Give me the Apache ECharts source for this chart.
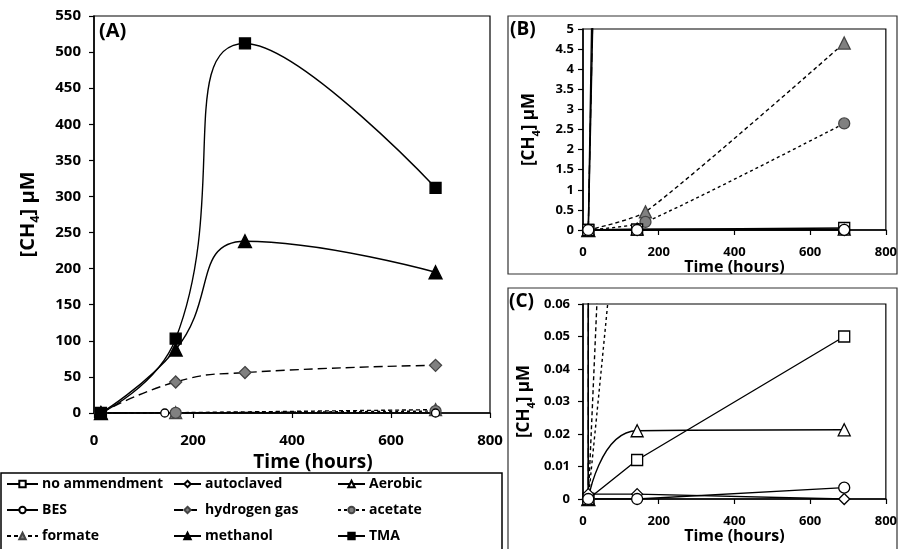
<!DOCTYPE html>
<html>
<head>
<meta charset="utf-8">
<title>CH4 production</title>
<script src="https://cdn.jsdelivr.net/npm/echarts@6.0.0/dist/echarts.min.js"></script>
<style>
	html, body { margin: 0; padding: 0; background: #fff; }
	#chart { width: 900px; height: 549px; }
</style>
</head>
<body>
<div id="chart"></div>
<script type="text/javascript">
// sampling times (hours)
var hoursMain = [14, 165, 305, 690];
var hoursAcid = [14, 165, 690];
var hoursCtrl = [14, 143, 690];

// [CH4] uM per treatment
var tma = [0, 103, 512, 312];
var methanol = [0, 88, 238, 195];
var hydrogen = [0, 43, 56, 66];
var formate = [0, 0.45, 4.65];
var acetate = [0, 0.2, 2.65];
var aerobic = [0, 0.021, 0.0213];
var noAmend = [0, 0.012, 0.05];
var autoclaved = [0.0015, 0.0015, 0];
var bes = [0, 0, 0.0035];

var xTicks = [0, 200, 400, 600, 800];
var yMaxA = 550, yMaxB = 5, yMaxC = 0.06;

var legendRows = [
	['no ammendment', 'autoclaved', 'Aerobic'],
	['BES', 'hydrogen gas', 'acetate'],
	['formate', 'methanol', 'TMA']
];

var FONT = '"Open Sans", sans-serif';
var GRAY = '#808080';

// panels: 0 = A, 1 = B, 2 = C
var defs = [
	{name: 'TMA', x: hoursMain, y: tma, symbol: 'rect', size: 11, fill: '#000', border: '#000', dash: 'solid', smooth: 0.5, panels: [0, 1, 2]},
	{name: 'methanol', x: hoursMain, y: methanol, symbol: 'triangle', size: 13, fill: '#000', border: '#000', dash: 'solid', smooth: 0.5, panels: [0, 1, 2]},
	{name: 'hydrogen gas', x: hoursMain, y: hydrogen, symbol: 'diamond', size: 12, fill: GRAY, border: '#444', dash: [9, 5], smooth: 0.5, panels: [0, 1, 2]},
	{name: 'formate', x: hoursAcid, y: formate, symbol: 'triangle', size: 12, fill: GRAY, border: '#444', dash: [4, 3], smooth: 0.2, panels: [0, 1, 2]},
	{name: 'acetate', x: hoursAcid, y: acetate, symbol: 'circle', size: 11, fill: GRAY, border: '#444', dash: [3, 3], smooth: 0.2, panels: [0, 1, 2]},
	{name: 'Aerobic', x: hoursCtrl, y: aerobic, symbol: 'triangle', size: 12, fill: '#fff', border: '#000', dash: 'solid', smooth: 0.5, panels: [1, 2]},
	{name: 'no ammendment', x: hoursCtrl, y: noAmend, symbol: 'rect', size: 11, fill: '#fff', border: '#000', dash: 'solid', smooth: false, panels: [1, 2]},
	{name: 'autoclaved', x: hoursCtrl, y: autoclaved, symbol: 'diamond', size: 11, fill: '#fff', border: '#000', dash: 'solid', smooth: false, panels: [1, 2]},
	{name: 'BES', x: hoursCtrl, y: bes, symbol: 'circle', size: 11, fill: '#fff', border: '#000', dash: 'solid', smooth: false, panels: [0, 1, 2]}
];

function makeSeries(d, idx) {
	var small = idx === 0 && d.fill === '#fff';
	return {
		name: d.name,
		type: 'line',
		xAxisIndex: idx,
		yAxisIndex: idx,
		z: (idx === 0 && d.fill === '#000') ? 4 : 2,
		data: d.x.map(function (t, i) { return [t, d.y[i]]; }),
		symbol: d.symbol,
		symbolSize: small ? 8 : d.size,
		smooth: d.smooth,
		clip: true,
		animation: false,
		lineStyle: {color: '#000', width: 1.4, type: d.dash},
		itemStyle: {color: d.fill, borderColor: d.border, borderWidth: 1.3}
	};
}

var series = [];
[0, 1, 2].forEach(function (idx) {
	defs.forEach(function (d) {
		if (d.panels.indexOf(idx) >= 0) series.push(makeSeries(d, idx));
	});
});

function xAxis(idx, labelSize, nameSize, gap, margin, pad) {
	return {
		type: 'value', gridIndex: idx, min: xTicks[0], max: xTicks[xTicks.length - 1], interval: 200,
		name: 'Time (hours)', nameLocation: 'middle', nameGap: gap,
		nameTextStyle: {fontFamily: FONT, fontWeight: 'bold', fontSize: nameSize, color: '#000', padding: pad},
		axisLine: {lineStyle: {color: '#000', width: 1.5}},
		axisTick: {length: 5, lineStyle: {color: '#000', width: 1.2}},
		axisLabel: {fontFamily: FONT, fontWeight: 'bold', fontSize: labelSize, color: '#000', margin: margin},
		splitLine: {show: false}
	};
}

function yAxis(idx, max, interval, labelSize, nameSize, gap, margin) {
	return {
		type: 'value', gridIndex: idx, min: 0, max: max, interval: interval,
		name: '[CH{s|4}] µM', nameLocation: 'middle', nameGap: gap,
		nameTextStyle: {
			fontFamily: FONT, fontWeight: 'bold', fontSize: nameSize, color: '#000', lineHeight: nameSize + 8,
			rich: {s: {fontFamily: FONT, fontWeight: 'bold', fontSize: Math.round(nameSize * 0.65), color: '#000', verticalAlign: 'bottom', lineHeight: Math.round(nameSize * 0.65)}}
		},
		axisLine: {lineStyle: {color: '#000', width: 1.5}},
		axisTick: {length: 5, lineStyle: {color: '#000', width: 1.2}},
		axisLabel: {fontFamily: FONT, fontWeight: 'bold', fontSize: labelSize, color: '#000', margin: margin,
			formatter: function (v) { return String(+v.toFixed(3)); }},
		splitLine: {show: false}
	};
}

var colX = [6, 173, 337];
var rowY = [487, 513, 539];
var legends = [];
legendRows.forEach(function (row, r) {
	row.forEach(function (name, c) {
		legends.push({
			data: [name], left: colX[c], top: rowY[r] - 10, padding: 0,
			itemWidth: c === 0 ? 31 : 27, itemHeight: 8, itemGap: 0, selectedMode: false,
			textStyle: {fontFamily: FONT, fontWeight: 'bold', fontSize: 14, color: '#000', padding: [0, 0, 0, -1]}
		});
	});
});

var option = {
	backgroundColor: '#fff',
	animation: false,
	grid: [
		{left: 94, right: 410, top: 16, bottom: 136, show: true, borderColor: '#000', borderWidth: 1.2},
		{left: 583, right: 12, top: 29, bottom: 319, show: true, borderColor: '#000', borderWidth: 1.2},
		{left: 583, right: 12, top: 304, bottom: 50, show: true, borderColor: '#000', borderWidth: 1.2}
	],
	xAxis: [
		xAxis(0, 15, 19, 27, 20, [0, 0, 0, 42]),
		xAxis(1, 13, 16, 24, 16, 0),
		xAxis(2, 13, 16, 25, 16, 0)
	],
	yAxis: [
		yAxis(0, yMaxA, 50, 15, 20, 52, 13),
		yAxis(1, yMaxB, 0.5, 13, 17, 41, 9),
		yAxis(2, yMaxC, 0.01, 13, 17, 46, 13)
	],
	legend: legends,
	graphic: [
		{type: 'rect', shape: {x: 1, y: 473, width: 501, height: 90}, style: {fill: 'none', stroke: '#000', lineWidth: 1.5}, silent: true},
		{type: 'rect', shape: {x: 508, y: 16, width: 389, height: 258}, style: {fill: 'none', stroke: '#333', lineWidth: 1.2}, silent: true},
		{type: 'rect', shape: {x: 508, y: 288, width: 389, height: 280}, style: {fill: 'none', stroke: '#333', lineWidth: 1.2}, silent: true},
		{type: 'text', left: 99, top: 21, style: {text: '(A)', font: 'bold 20px ' + FONT, fill: '#000'}},
		{type: 'text', left: 510, top: 20, style: {text: '(B)', font: 'bold 19px ' + FONT, fill: '#000'}},
		{type: 'text', left: 509, top: 292, style: {text: '(C)', font: 'bold 19px ' + FONT, fill: '#000'}}
	],
	series: series
};

var myChart = echarts.init(document.getElementById('chart'), null, {renderer: 'canvas'});
myChart.setOption(option);
</script>
</body>
</html>
